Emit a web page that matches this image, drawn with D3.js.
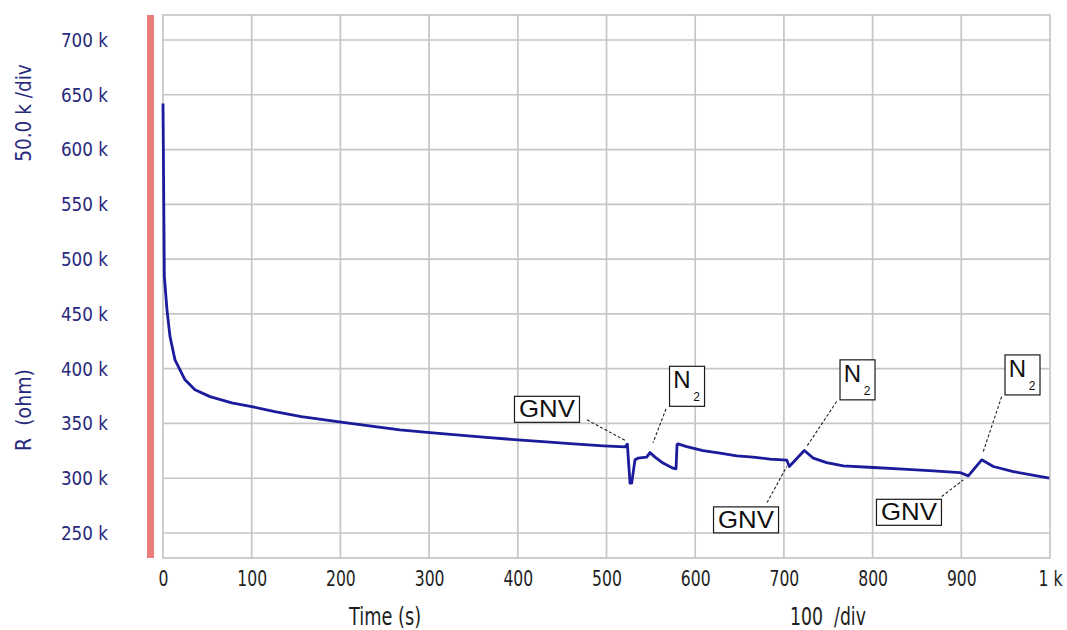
<!DOCTYPE html>
<html>
<head>
<meta charset="utf-8">
<script src="https://cdn.jsdelivr.net/npm/d3@7/dist/d3.min.js"></script>
<style>
  html, body { margin: 0; padding: 0; background: #ffffff; }
  svg { display: block; }
</style>
</head>
<body>
<svg id="chart" width="1067" height="630"></svg>
<script>
// Resistance recorded over time (seconds, kilo-ohm)
const timeS = [0, 1.5, 4.5, 7.9, 13.5, 24.8, 36, 53, 77.5, 100, 126, 156, 200.7, 267, 301, 360.8, 400, 436, 458.8, 496.4,
  520.9, 523.5, 526.5, 528.4, 532.1, 535.5, 545.3, 549, 554.7, 563.7, 575, 578.4, 579.5, 580.6, 590.4, 608.8, 628, 646.8,
  665.2, 684.3, 703.2, 706.1, 723, 733.1, 748.2, 767, 800.8, 834.6, 868.4, 898.5, 907.9, 923, 936.1, 958.6, 999.2];
const resistanceK = [642, 484, 453.6, 429.3, 408, 389.8, 380.7, 374.5, 368.8, 365.4, 360.9, 356.3, 351.2, 344.2, 341.7, 337.5, 335, 333, 331.5, 329.5,
  328.6, 331.1, 295.5, 295.5, 316.8, 318.3, 319.3, 323.4, 319.3, 313.8, 309.2, 308.6, 330.5, 331.4, 328.9, 325.3, 322.9, 320.4,
  319.3, 317.4, 316.6, 310.7, 325.3, 318.3, 314.3, 311.3, 309.8, 308.3, 306.8, 305.2, 302.2, 316.8, 310.7, 306.1, 300.1];

// Axis ticks
const yTicks = [250, 300, 350, 400, 450, 500, 550, 600, 650, 700];
const xTicks = [0, 100, 200, 300, 400, 500, 600, 700, 800, 900, 1000];
const xTickLabels = ["0", "100", "200", "300", "400", "500", "600", "700", "800", "900", "1 k"];
const xDomain = [0, 1000];
const yDomain = [227.2, 722.8];

// Gas-switch annotations: label, box centre (s, kΩ), leader start and end (s, kΩ)
const annText = ["GNV", "N2", "N2", "GNV", "N2", "GNV"];
const annBoxT = [432.9, 590.8, 783, 657.3, 969, 841];
const annBoxV = [362.9, 383.9, 389.8, 262.0, 394.3, 268.9];
const annFromT = [478, 567.1, 759.5, 681, 945.5, 877.9];
const annFromV = [353.3, 363.3, 370.0, 277.8, 374.5, 283.3];
const annToT = [522, 552.4, 725.7, 703.2, 924.8, 902.3];
const annToV = [334.1, 332.3, 328.9, 310.7, 324.4, 298.5];

const svg = d3.select("#chart");
const plot = { left: 163, right: 1050, top: 15, bottom: 558 };

const x = d3.scaleLinear().domain(xDomain).range([plot.left, plot.right]);
const y = d3.scaleLinear().domain(yDomain).range([plot.bottom, plot.top]);

// Tall, narrow axis lettering: DejaVu Sans squeezed horizontally
const tickFont = "'DejaVu Sans', sans-serif";
const navy = "#28287c";
const ink = "#1e1e1e";

// Marker band on the left of the plot
svg.append("rect")
  .attr("x", 147).attr("y", plot.top)
  .attr("width", 7).attr("height", plot.bottom - plot.top)
  .attr("fill", "#ea7e7c");

// Grid
const grid = svg.append("g").attr("stroke", "#c6c6c6").attr("stroke-width", 1.7).attr("fill", "none");
grid.selectAll("line.h").data(yTicks).join("line")
  .attr("x1", plot.left).attr("x2", plot.right)
  .attr("y1", d => y(d)).attr("y2", d => y(d));
grid.selectAll("line.v").data(xTicks.slice(1, -1)).join("line")
  .attr("y1", plot.top).attr("y2", plot.bottom)
  .attr("x1", d => x(d)).attr("x2", d => x(d));
grid.append("rect")
  .attr("x", plot.left).attr("y", plot.top)
  .attr("width", plot.right - plot.left).attr("height", plot.bottom - plot.top);

// Y axis labels
const yAxis = d3.axisLeft(y).tickValues(yTicks).tickSize(0).tickPadding(0)
  .tickFormat(d => d + " k");
const gy = svg.append("g").attr("transform", "translate(108,0)").call(yAxis);
gy.select(".domain").remove();
gy.selectAll("text")
  .attr("x", 0)
  .attr("transform", "scale(0.84,1)")
  .attr("font-family", tickFont).attr("font-size", 20)
  .attr("fill", navy);

// X axis labels
const xAxis = d3.axisBottom(x).tickValues(xTicks).tickSize(0).tickPadding(0)
  .tickFormat((d, i) => xTickLabels[i]);
const gx = svg.append("g").attr("transform", "translate(0,570)").call(xAxis);
gx.select(".domain").remove();
gx.selectAll("text")
  .attr("dy", "0.73em")
  .attr("transform", "scale(0.71,1)")
  .attr("font-family", tickFont).attr("font-size", 22)
  .attr("fill", ink);

// Axis titles
svg.append("text")
  .attr("transform", "translate(385,625) scale(0.74,1)").attr("text-anchor", "middle")
  .attr("font-family", tickFont).attr("font-size", 24).attr("fill", ink)
  .text("Time (s)");
svg.append("text")
  .attr("transform", "translate(828,625) scale(0.72,1)").attr("text-anchor", "middle")
  .attr("font-family", tickFont).attr("font-size", 24).attr("fill", ink)
  .attr("xml:space", "preserve")
  .text("100  /div");
svg.append("text")
  .attr("transform", "translate(31,113) rotate(-90) scale(0.88,1)").attr("text-anchor", "middle")
  .attr("font-family", tickFont).attr("font-size", 21).attr("fill", navy)
  .text("50.0 k /div");
svg.append("text")
  .attr("transform", "translate(31,410) rotate(-90) scale(0.9,1)").attr("text-anchor", "middle")
  .attr("font-family", tickFont).attr("font-size", 21).attr("fill", navy)
  .attr("xml:space", "preserve")
  .text("R  (ohm)");

// Resistance trace
const series = timeS.map((t, i) => [t, resistanceK[i]]);
svg.append("path")
  .datum(series)
  .attr("fill", "none")
  .attr("stroke", "#1b1b9b")
  .attr("stroke-width", 2.8)
  .attr("stroke-linejoin", "round")
  .attr("d", d3.line().x(d => x(d[0])).y(d => y(d[1])));

// Annotations
const ann = svg.append("g");
annText.forEach((label, i) => {
  ann.append("line")
    .attr("x1", x(annFromT[i])).attr("y1", y(annFromV[i]))
    .attr("x2", x(annToT[i])).attr("y2", y(annToV[i]))
    .attr("stroke", "#222").attr("stroke-width", 1.1)
    .attr("stroke-dasharray", "3,2");

  const cx = x(annBoxT[i]), cy = y(annBoxV[i]);
  const isN2 = label === "N2";
  const w = isN2 ? 35 : 65, h = isN2 ? 40 : 26;
  const g = ann.append("g").attr("transform", `translate(${cx - w / 2},${cy - h / 2})`);
  g.append("rect")
    .attr("width", w).attr("height", h)
    .attr("fill", "#ffffff").attr("stroke", "#1a1a1a").attr("stroke-width", 1.2);
  if (isN2) {
    g.append("text")
      .attr("x", 12.5).attr("y", 22).attr("text-anchor", "middle")
      .attr("font-family", "'Liberation Sans', Arial, sans-serif").attr("font-size", 24)
      .attr("fill", "#111").text("N");
    g.append("text")
      .attr("x", 27).attr("y", 35).attr("text-anchor", "middle")
      .attr("font-family", "'Liberation Sans', Arial, sans-serif").attr("font-size", 12)
      .attr("fill", "#111").text("2");
  } else {
    g.append("text")
      .attr("x", w / 2).attr("y", 21).attr("text-anchor", "middle")
      .attr("font-family", "'Liberation Sans', Arial, sans-serif").attr("font-size", 24)
      .attr("textLength", 56).attr("lengthAdjust", "spacingAndGlyphs")
      .attr("fill", "#111").text("GNV");
  }
});
</script>
</body>
</html>
